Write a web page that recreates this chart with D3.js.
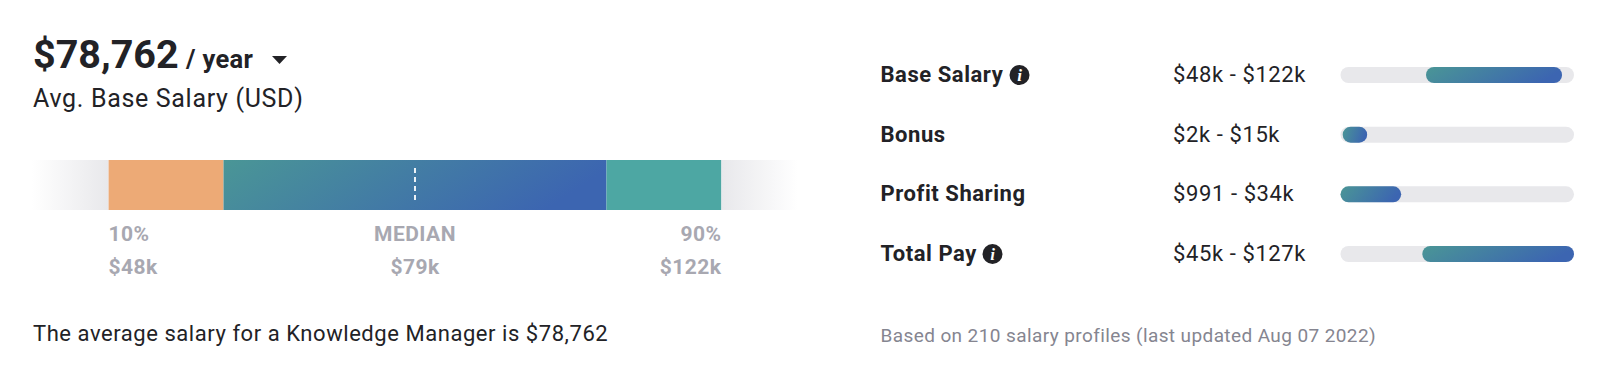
<!DOCTYPE html>
<html><head><meta charset="utf-8">
<script src="https://cdn.jsdelivr.net/npm/d3@7"></script>
<style>html,body{margin:0;padding:0;background:#fff;overflow:hidden}svg{display:block}text{font-family:Roboto,sans-serif}</style>
</head><body><svg id="c" width="1600" height="380"></svg>
<script>
const headline = "$78,762", period = "/ year", subtitle = "Avg. Base Salary (USD)";
const caption = "The average salary for a Knowledge Manager is $78,762";
const footnote = "Based on 210 salary profiles (last updated Aug 07 2022)";
const bandPercentiles = [0, 10, 25, 75, 90, 100];
const medianPercentile = 50;
const markerLabels = ["10%", "MEDIAN", "90%"];
const markerValues = ["$48k", "$79k", "$122k"];
const markerPercentiles = [10, 50, 90];
const payNames = ["Base Salary", "Bonus", "Profit Sharing", "Total Pay"];
const payRanges = ["$48k - $122k", "$2k - $15k", "$991 - $34k", "$45k - $127k"];
const payLow = [46.5, 1.2, 0, 44.5];
const payHigh = [120.5, 14.5, 33, 127];
const payInfo = [true, false, false, true];

const svg = d3.select("#c");
const defs = svg.append("defs");
function grad(id, stops, y2){
  const g = defs.append("linearGradient").attr("id", id).attr("x1",0).attr("y1",0).attr("x2",1).attr("y2",y2||0);
  stops.forEach(s=>g.append("stop").attr("offset",s[0]).attr("stop-color",s[1]).attr("stop-opacity",s[2]===undefined?1:s[2]));
}
grad("fadeL",[[0,"#e8e8eb",0],[1,"#e8e8eb",1]]);
grad("fadeR",[[0,"#e8e8eb",1],[1,"#e8e8eb",0]]);
grad("main",[[0,"#4a9696"],[1,"#3c65b1"]],0.2);

const x = d3.scaleLinear().domain([0,100]).range([32,798]);
const bandY = 160, bandH = 50;
const fills = ["url(#fadeL)","#edaa76","url(#main)","#4da7a3","url(#fadeR)"];
svg.append("g").selectAll("rect").data(d3.pairs(bandPercentiles)).join("rect")
  .attr("x",d=>x(d[0])).attr("width",d=>x(d[1])-x(d[0]))
  .attr("y",bandY).attr("height",bandH).attr("fill",(d,i)=>fills[i]);
svg.append("line").attr("x1",x(medianPercentile)).attr("x2",x(medianPercentile))
  .attr("y1",168).attr("y2",202).attr("stroke","#fff").attr("stroke-width",1.8).attr("stroke-dasharray","5 4");

const anchors = ["start","middle","end"];
const grey = "#a8a8b1";
[[markerLabels,241],[markerValues,274]].forEach(([arr,yy])=>{
  svg.append("g").selectAll("text").data(arr).join("text")
    .attr("x",(d,i)=>x(markerPercentiles[i])).attr("y",yy).attr("text-anchor",(d,i)=>anchors[i])
    .attr("font-size",21).attr("letter-spacing",0.45).attr("font-weight",700).attr("fill",grey).text(d=>d);
});

const ink = "#222226";
svg.append("text").attr("x",33).attr("y",68).attr("font-size",39.5).attr("font-weight",700).attr("fill",ink).text(headline);
svg.append("text").attr("x",186).attr("y",68).attr("font-size",25.5).attr("letter-spacing",0.3).attr("font-weight",700).attr("fill",ink).text(period);
svg.append("path").attr("d",d3.line()([[272,56],[287,56],[279.5,64]])+"Z").attr("fill",ink);
svg.append("text").attr("x",33).attr("y",107).attr("font-size",25).attr("letter-spacing",0.68).attr("fill",ink).text(subtitle);
svg.append("text").attr("x",33).attr("y",341).attr("font-size",22).attr("letter-spacing",0.55).attr("fill",ink).text(caption);
svg.append("text").attr("x",880.5).attr("y",342).attr("font-size",19).attr("letter-spacing",0.4).attr("fill","#858590").text(footnote);

const y = d3.scalePoint().domain(payNames).range([75,254]);
const px = d3.scaleLinear().domain([0,127]).range([1340.5,1574]);
const rows = svg.append("g").selectAll("g").data(payNames).join("g").attr("transform",d=>`translate(0,${y(d)})`);
rows.append("text").attr("x",880.5).attr("y",7).attr("font-size",22).attr("letter-spacing",0.55).attr("font-weight",700).attr("fill",ink).text(d=>d);
rows.append("text").attr("x",1173).attr("y",7).attr("font-size",22).attr("letter-spacing",0.6).attr("fill",ink).text((d,i)=>payRanges[i]);
rows.append("rect").attr("x",px(0)).attr("width",px(127)-px(0)).attr("y",-8).attr("height",16).attr("rx",8).attr("fill","#e8e8eb");
rows.append("rect").attr("x",(d,i)=>px(payLow[i])).attr("width",(d,i)=>px(payHigh[i])-px(payLow[i]))
  .attr("y",-8).attr("height",16).attr("rx",8).attr("fill","url(#main)");

const infoX = {"Base Salary":1019.5,"Total Pay":992.5};
const info = rows.filter((d,i)=>payInfo[i]).append("g").attr("transform",d=>`translate(${infoX[d]},0)`);
info.append("circle").attr("r",10).attr("fill",ink);
info.append("text").attr("y",6).attr("text-anchor","middle").attr("font-size",17).attr("font-weight",700)
  .attr("font-style","italic").attr("fill","#fff").style("font-family","'Liberation Serif',serif").text("i");
</script></body></html>
